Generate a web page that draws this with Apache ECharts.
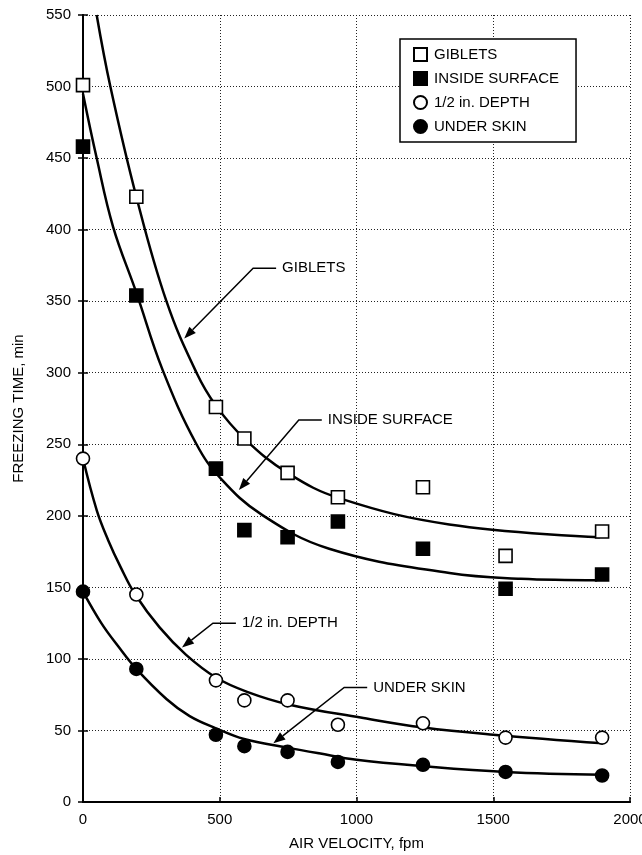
<!DOCTYPE html>
<html lang="en">
<head>
    <meta charset="UTF-8">
    <title>freezing time</title>
    <script type="text/javascript" src="https://cdn.jsdelivr.net/npm/echarts@6/dist/echarts.min.js"></script>
    <style>
        html, body { margin: 0; padding: 0; background: #fff; }
        .box { width: 642px; height: 855px; }
    </style>
</head>
<body>
    <div class="box"></div>
    <script>
        // measured points
        var velocity = [0, 195, 486, 590, 748, 932, 1243, 1545, 1898]
        var giblets = [501, 423, 276, 254, 230, 213, 220, 172, 189]
        var insideSurface = [458, 354, 233, 190, 185, 196, 177, 149, 159]
        var halfInDepth = [240, 145, 85, 71, 71, 54, 55, 45, 45]
        var underSkin = [147, 93, 47, 39, 35, 28, 26, 21, 18.5]

        // fitted curves
        var gibletsCurveX = [50, 100, 195, 305, 415, 486, 590, 748, 942, 1339, 1890]
        var gibletsCurveY = [550, 500, 423, 350, 300, 277, 254, 230, 212, 194, 185]
        var insideCurveX = [0, 50, 110, 195, 291, 415, 504, 652, 900, 1340, 1600, 1880]
        var insideCurveY = [495, 450, 402, 356, 302, 250, 226, 201, 177, 160, 156, 155]
        var depthCurveX = [0, 50, 92, 138, 191, 280, 376, 486, 600, 755, 1015, 1245, 1500, 1900]
        var depthCurveY = [240, 204, 183, 164, 145, 122, 103, 87, 77, 68, 59, 52, 47, 41]
        var skinCurveX = [0, 67, 128, 195, 305, 390, 486, 589, 748, 863, 1000, 1245, 1545, 1900]
        var skinCurveY = [147, 125, 109, 93, 72, 60, 51.5, 44, 38, 34, 29.5, 25, 21, 19]

        var seriesNames = ['GIBLETS', 'INSIDE SURFACE', '1/2 in. DEPTH', 'UNDER SKIN']

        // leader labels: [text, tip, elbow]
        var notes = [
            ['GIBLETS', [370, 324], [622, 373]],
            ['INSIDE SURFACE', [570, 218], [789, 267]],
            ['1/2 in. DEPTH', [362, 108], [475, 125]],
            ['UNDER SKIN', [696, 41], [955, 80]]
        ]

        var font = 'Liberation Sans, Arial, sans-serif'

        function pairs(xs, ys) {
            return xs.map(function (x, i) { return [x, ys[i]] })
        }

        function curve(name, xs, ys) {
            return {
                name: name,
                type: 'line',
                data: pairs(xs, ys),
                smooth: 0.4,
                symbol: 'none',
                lineStyle: { color: '#000', width: 2.5 },
                z: 2,
                silent: true
            }
        }

        function points(name, ys, symbol, filled) {
            return {
                name: name,
                type: 'scatter',
                data: pairs(velocity, ys),
                symbol: symbol,
                symbolSize: 13,
                itemStyle: {
                    color: filled ? '#000' : '#fff',
                    borderColor: '#000',
                    borderWidth: 1.6,
                    opacity: 1
                },
                z: 5
            }
        }

        var oBox = document.querySelector('.box')
        var chart = echarts.init(oBox)

        var option = {
            animation: false,
            backgroundColor: '#fff',
            textStyle: { fontFamily: font },
            grid: { left: 83, right: 12, top: 15, bottom: 53, containLabel: false, outerBoundsMode: 'none' },
            legend: {
                data: seriesNames,
                orient: 'vertical',
                left: 400,
                top: 39,
                padding: [8, 17, 8, 13],
                itemGap: 9,
                itemWidth: 13,
                itemHeight: 13,
                backgroundColor: '#fff',
                borderColor: '#000',
                borderWidth: 1.5,
                selectedMode: false,
                textStyle: { fontSize: 15, color: '#000', fontFamily: font, padding: [0, 0, 0, 2] }
            },
            xAxis: [{
                type: 'value',
                min: 0,
                max: 2000,
                interval: 500,
                name: 'AIR VELOCITY, fpm',
                nameLocation: 'middle',
                nameGap: 34,
                nameTextStyle: { fontSize: 15, color: '#000', fontFamily: font },
                axisLine: { lineStyle: { color: '#000', width: 2 } },
                axisTick: { inside: true, length: 5, lineStyle: { color: '#000', width: 1.5 } },
                axisLabel: {
                    fontSize: 15, color: '#000', margin: 10, fontFamily: font,
                    formatter: function (v) { return String(v) }
                },
                splitLine: { lineStyle: { color: '#222', type: [1, 2], width: 1 } }
            }, {
                type: 'value',
                position: 'top',
                min: 0,
                max: 2000,
                interval: 500,
                axisLine: { show: true, lineStyle: { color: '#000', width: 2 } },
                axisTick: { show: false },
                axisLabel: { show: false },
                splitLine: { show: false }
            }],
            yAxis: [{
                type: 'value',
                min: 0,
                max: 550,
                interval: 50,
                name: 'FREEZING TIME, min',
                nameLocation: 'middle',
                nameGap: 57,
                nameTextStyle: { fontSize: 15, color: '#000', fontFamily: font },
                axisLine: { show: true, lineStyle: { color: '#000', width: 2 } },
                axisTick: { show: true, inside: true, length: 5, lineStyle: { color: '#000', width: 1.5 } },
                axisLabel: { fontSize: 15, color: '#000', margin: 12, fontFamily: font },
                splitLine: { lineStyle: { color: '#222', type: [1, 2], width: 1 } }
            }, {
                type: 'value',
                position: 'right',
                min: 0,
                max: 550,
                interval: 50,
                axisLine: { show: true, lineStyle: { color: '#000', width: 2 } },
                axisTick: { show: true, inside: true, length: 5, lineStyle: { color: '#000', width: 1.5 } },
                axisLabel: { show: false },
                splitLine: { show: false }
            }],
            series: [
                curve('giblets fit', gibletsCurveX, gibletsCurveY),
                curve('inside fit', insideCurveX, insideCurveY),
                curve('depth fit', depthCurveX, depthCurveY),
                curve('skin fit', skinCurveX, skinCurveY),
                points(seriesNames[0], giblets, 'rect', false),
                points(seriesNames[1], insideSurface, 'rect', true),
                points(seriesNames[2], halfInDepth, 'circle', false),
                points(seriesNames[3], underSkin, 'circle', true)
            ]
        }
        chart.setOption(option)

        // leader lines with arrow heads
        var graphics = []
        notes.forEach(function (n) {
            var tip = chart.convertToPixel({ gridIndex: 0 }, n[1])
            var elbow = chart.convertToPixel({ gridIndex: 0 }, n[2])
            var dx = tip[0] - elbow[0], dy = tip[1] - elbow[1]
            var len = Math.sqrt(dx * dx + dy * dy)
            var ux = dx / len, uy = dy / len
            var hl = 12, hw = 4.5
            var bx = tip[0] - ux * hl, by = tip[1] - uy * hl
            graphics.push({
                type: 'polyline',
                shape: { points: [[elbow[0] + 23, elbow[1]], elbow, [bx, by]] },
                style: { stroke: '#000', lineWidth: 1.5, fill: null },
                z: 10
            })
            graphics.push({
                type: 'polygon',
                shape: { points: [tip, [bx - uy * hw, by + ux * hw], [bx + uy * hw, by - ux * hw]] },
                style: { fill: '#000' },
                z: 10
            })
            graphics.push({
                type: 'text',
                x: elbow[0] + 29,
                y: elbow[1],
                style: { text: n[0], fontSize: 15, fontFamily: font, fill: '#000', verticalAlign: 'middle', align: 'left' },
                z: 10
            })
        })
        chart.setOption({ graphic: graphics })
    </script>
</body>
</html>
